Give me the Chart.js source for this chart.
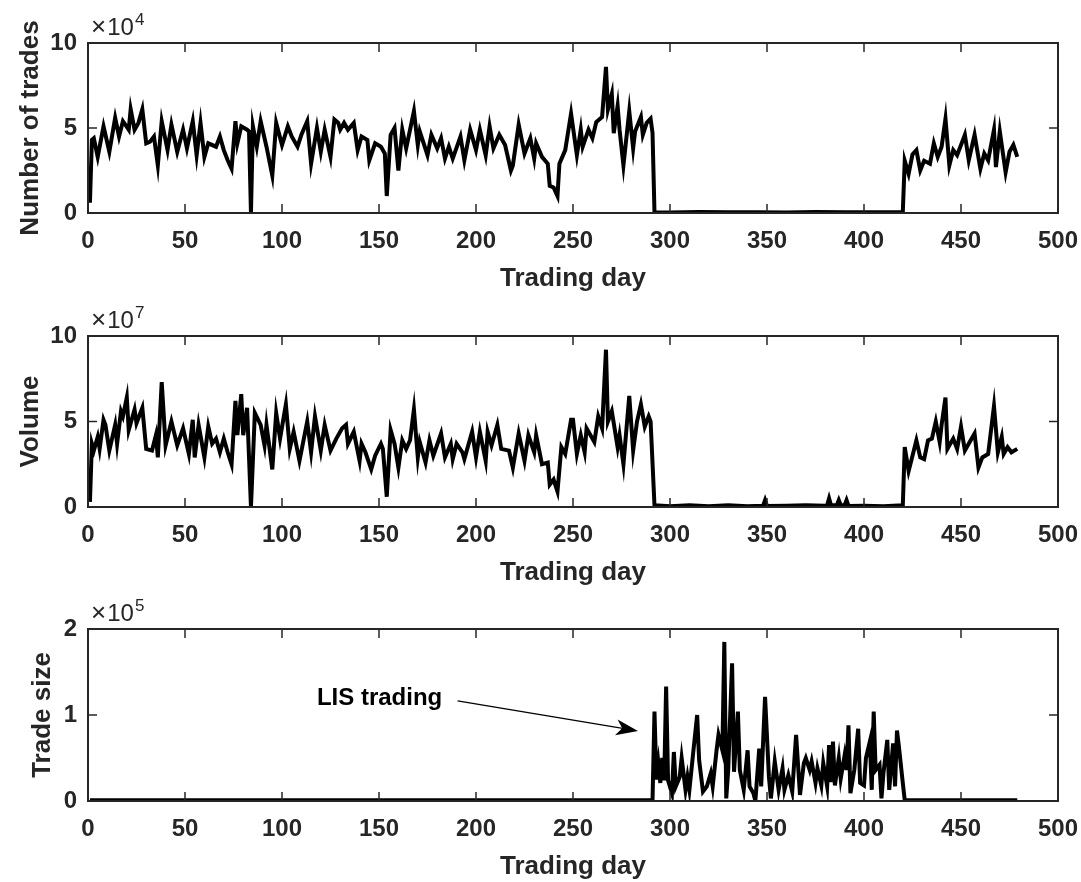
<!DOCTYPE html>
<html>
<head>
<meta charset="utf-8">
<script src="https://cdn.jsdelivr.net/npm/chart.js@4.4.0/dist/chart.umd.min.js"></script>
<style>
    html, body { margin: 0; padding: 0; background: #fff; }
    #wrap { position: relative; width: 1081px; height: 882px; }
    .panel { position: absolute; left: 0; width: 1081px; height: 294px; }
</style>
</head>
<body>
<div id="wrap">
    <div class="panel" style="top:0"><canvas id="tradesChart" width="1081" height="294"></canvas></div>
    <div class="panel" style="top:294px"><canvas id="volumeChart" width="1081" height="294"></canvas></div>
    <div class="panel" style="top:588px"><canvas id="sizeChart" width="1081" height="294"></canvas></div>
</div>
<script>
// Number of trades (x 10^4) per trading day
const tradeDays = [
    1, 2, 3, 5, 8, 11, 14, 16, 18, 21,
    22, 24, 26, 28, 30, 32, 34, 36, 38, 41,
    43, 46, 49, 51, 54, 56, 58, 60, 62, 66,
    68, 70, 72, 74, 76, 77, 79, 82, 83, 84,
    85, 87, 89, 92, 95, 97, 100, 103, 105, 108,
    110, 113, 115, 118, 120, 122, 125, 127, 129, 130,
    132, 134, 137, 139, 141, 144, 145, 148, 151, 153,
    154, 156, 158, 160, 162, 164, 168, 170, 171, 175,
    177, 180, 182, 184, 186, 188, 192, 194, 197, 200,
    202, 205, 207, 209, 212, 215, 218, 219, 222, 225,
    228, 230, 231, 234, 237, 238, 240, 242, 243, 246,
    249, 252, 254, 255, 258, 260, 262, 265, 267, 268,
    270, 271, 273, 274, 276, 279, 281, 282, 285, 286,
    288, 290, 291, 292, 300, 315, 330, 345, 360, 375,
    390, 405, 420, 421, 423, 425, 427, 429, 431, 434,
    436, 438, 440, 442, 444, 446, 448, 452, 454, 457,
    460, 462, 464, 467, 468, 470, 473, 475, 477, 479
];
const tradeCounts = [
    0.6, 4.3, 4.4, 3.3, 5.1, 3.6, 5.6, 4.5, 5.4, 4.9,
    6.1, 4.9, 5.3, 6.1, 4.1, 4.2, 4.5, 2.8, 5.4, 3.7,
    5.2, 3.6, 4.9, 3.8, 5.4, 3.4, 5.3, 3.3, 4.1, 3.9,
    4.5, 3.7, 3.1, 2.6, 5.4, 4.1, 5.1, 4.9, 4.8, 0,
    5.1, 3.9, 5.4, 3.9, 2.2, 5.3, 4.0, 5.1, 4.5, 3.9,
    4.6, 5.4, 2.9, 5.0, 3.6, 4.9, 3.3, 5.5, 5.3, 4.9,
    5.3, 4.9, 5.3, 3.7, 4.5, 4.3, 3.1, 4.1, 3.9, 3.5,
    1.0, 4.6, 5.0, 2.5, 4.9, 3.8, 6.0, 4.0, 4.8, 3.4,
    4.6, 3.8, 4.4, 3.2, 3.9, 3.2, 4.5, 3.1, 4.9, 3.7,
    4.9, 3.4, 5.1, 3.8, 4.6, 4.0, 2.5, 2.8, 5.2, 3.5,
    4.4, 3.2, 4.1, 3.3, 2.9, 1.6, 1.5, 1.0, 2.9, 3.7,
    5.85, 3.4, 4.9, 3.9, 4.9, 4.4, 5.35, 5.65, 8.6, 6.1,
    7.0, 4.7, 6.3, 4.9, 2.8, 6.0, 3.8, 4.8, 5.65, 4.6,
    5.3, 5.55, 4.7, 0.05, 0.03, 0.06, 0.04, 0.05, 0.03, 0.06,
    0.04, 0.05, 0.05, 3.07, 2.3, 3.45, 3.7, 2.5, 3.07, 2.9,
    4.1, 3.3, 3.9, 5.55, 2.8, 3.7, 3.4, 4.6, 3.1, 4.6,
    2.6, 3.5, 3.1, 4.9, 2.7, 4.8, 2.4, 3.6, 4.0, 3.3
];

// Volume (x 10^7)
const volumeDays = [
    1, 2, 3, 5, 6, 8, 9, 11, 14, 15,
    17, 18, 20, 21, 24, 25, 28, 30, 33, 35,
    36, 38, 40, 43, 46, 49, 52, 54, 55, 57,
    60, 62, 64, 66, 68, 70, 72, 74, 76, 77,
    79, 80, 82, 84, 86, 89, 91, 92, 95, 97,
    99, 102, 104, 106, 109, 113, 115, 117, 120, 122,
    125, 128, 131, 133, 134, 137, 140, 141, 143, 146,
    148, 151, 152, 154, 156, 158, 160, 162, 164, 166,
    168, 170, 171, 174, 176, 178, 182, 184, 187, 188,
    190, 193, 194, 198, 200, 202, 205, 206, 208, 211,
    213, 217, 219, 222, 225, 227, 230, 231, 234, 237,
    238, 240, 242, 244, 246, 249, 250, 252, 254, 256,
    257, 261, 263, 265, 267, 268, 270, 273, 274, 276,
    279, 281, 283, 285, 287, 289, 290, 292, 300, 310,
    320, 330, 340, 348, 349, 350, 360, 370, 380, 381,
    382, 383, 386, 387, 388, 390, 391, 392, 400, 410,
    420, 421, 423, 425, 427, 429, 431, 433, 435, 437,
    439, 440, 442, 443, 446, 448, 450, 452, 455, 457,
    459, 461, 464, 467, 469, 471, 472, 474, 476, 479
];
const volumes = [
    0.3, 3.7, 3.3, 4.1, 3.4, 5.1, 4.8, 3.3, 4.8, 3.7,
    5.6, 5.3, 6.4, 4.5, 5.7, 4.9, 5.8, 3.4, 3.3, 4.2,
    2.9, 7.3, 3.6, 5.0, 3.6, 4.6, 3.1, 5.1, 2.9, 4.8,
    2.9, 4.7, 3.7, 4.0, 3.2, 4.0, 3.2, 2.5, 6.2, 4.2,
    6.6, 4.2, 5.8, 0, 5.5, 4.8, 3.6, 4.8, 2.2, 5.5,
    4.0, 6.0, 3.4, 4.4, 2.7, 5.0, 3.2, 5.3, 3.3, 4.8,
    3.3, 4.0, 4.6, 4.8, 3.7, 4.4, 2.7, 3.7, 3.2, 2.2,
    3.0, 3.7, 3.4, 0.6, 4.5, 3.7, 2.3, 3.9, 3.4, 3.9,
    5.7, 2.9, 3.8, 2.6, 3.9, 3.0, 4.3, 2.9, 3.7, 2.8,
    3.7, 3.2, 2.8, 4.4, 2.9, 4.4, 2.7, 4.4, 3.6, 4.8,
    3.4, 3.3, 2.3, 4.3, 2.7, 4.2, 3.2, 4.2, 2.5, 2.6,
    1.3, 1.6, 0.9, 3.5, 3.1, 5.1, 5.1, 3.1, 4.2, 3.2,
    4.6, 3.8, 5.3, 4.6, 9.2, 5.0, 5.6, 3.5, 4.2, 2.5,
    6.5, 3.3, 5.0, 6.0, 4.7, 5.3, 5.0, 0.1, 0.05, 0.1,
    0.05, 0.1, 0.05, 0.08, 0.4, 0.06, 0.08, 0.1, 0.08, 0.1,
    0.5, 0.1, 0.1, 0.4, 0.1, 0.1, 0.4, 0.06, 0.08, 0.05,
    0.1, 3.5, 2.1, 3.0, 3.9, 2.9, 2.8, 3.9, 4.0, 5.0,
    3.8, 4.8, 6.4, 3.4, 4.0, 3.4, 4.7, 3.3, 3.9, 4.3,
    2.3, 2.9, 3.1, 5.9, 3.2, 4.1, 3.1, 3.5, 3.2, 3.4
];

// Trade size (x 10^5)
const sizeDays = [
    1, 50, 100, 150, 200, 250, 291, 292, 293, 294,
    295, 296, 297, 298, 299, 301, 302, 303, 305, 306,
    308, 309, 310, 312, 314, 315, 317, 319, 321, 322,
    324, 325, 327, 328, 329, 330, 332, 333, 335, 336,
    338, 340, 341, 343, 344, 346, 347, 349, 351, 352,
    354, 356, 358, 359, 361, 363, 365, 367, 369, 370,
    372, 373, 375, 376, 378, 379, 381, 382, 383, 384,
    385, 387, 388, 390, 391, 392, 393, 395, 397, 398,
    400, 401, 403, 404, 405, 406, 408, 409, 410, 412,
    413, 415, 416, 417, 418, 420, 421, 450, 479
];
const tradeSizes = [
    0.01, 0.01, 0.01, 0.01, 0.01, 0.01, 0.01, 1.04, 0.25, 0.44,
    0.21, 0.5, 0.24, 1.33, 0.24, 0.09, 0.57, 0.17, 0.28, 0.5,
    0.13, 0.28, 0.13, 0.57, 1.0, 0.48, 0.11, 0.17, 0.32, 0.17,
    0.59, 0.77, 0.59, 1.85, 0.03, 0.36, 1.6, 0.34, 1.04, 0.36,
    0.13, 0.59, 0.17, 0.09, 0.0, 0.61, 0.17, 1.21, 0.28, 0.03,
    0.46, 0.13, 0.38, 0.13, 0.3, 0.11, 0.77, 0.07, 0.44, 0.5,
    0.36, 0.46, 0.21, 0.38, 0.18, 0.44, 0.17, 0.65, 0.22, 0.69,
    0.18, 0.5, 0.26, 0.53, 0.36, 0.88, 0.09, 0.36, 0.84, 0.21,
    0.18, 0.5, 0.69, 0.13, 1.04, 0.36, 0.42, 0.03, 0.32, 0.71,
    0.13, 0.67, 0.17, 0.82, 0.63, 0.21, 0.01, 0.01, 0.01
];

// Annotation in data units of the bottom panel
const noteText = 'LIS trading';
const noteAt = [118, 1.12];
const arrowFrom = [190.5, 1.165];
const arrowTo = [283.5, 0.815];

const FONT = '"Liberation Sans", Arial, Helvetica, sans-serif';
const INK = '#262626';
const TICK_LEN = 9;

function strokeLine(ctx, x1, y1, x2, y2) {
    ctx.beginPath();
    ctx.moveTo(x1, y1);
    ctx.lineTo(x2, y2);
    ctx.stroke();
}

// MATLAB-like box: closed frame, inward ticks and the x10^n multiplier
const matlabBox = {
    id: 'matlabBox',
    afterDraw(chart, args, opts) {
        const {ctx, chartArea: a} = chart;
        const xs = chart.scales.x, ys = chart.scales.y;
        ctx.save();
        ctx.strokeStyle = INK;
        ctx.lineWidth = 1.5;
        xs.ticks.forEach(t => {
            const px = xs.getPixelForValue(t.value);
            strokeLine(ctx, px, a.bottom, px, a.bottom - TICK_LEN);
            strokeLine(ctx, px, a.top, px, a.top + TICK_LEN);
        });
        ys.ticks.forEach(t => {
            const py = ys.getPixelForValue(t.value);
            strokeLine(ctx, a.left, py, a.left + TICK_LEN, py);
            strokeLine(ctx, a.right, py, a.right - TICK_LEN, py);
        });
        ctx.lineWidth = 2;
        ctx.strokeRect(a.left, a.top, a.right - a.left, a.bottom - a.top);

        // multiplier above the top-left corner
        ctx.fillStyle = INK;
        ctx.textBaseline = 'alphabetic';
        ctx.textAlign = 'left';
        const base = a.top - 8;
        let tx = a.left + 3;
        ctx.font = '26px ' + FONT;
        ctx.fillText('\u00d7', tx, base);
        tx += ctx.measureText('\u00d7').width + 1;
        ctx.font = '24px ' + FONT;
        ctx.fillText('10', tx, base);
        tx += ctx.measureText('10').width + 1;
        ctx.font = '17px ' + FONT;
        ctx.fillText(String(opts.exponent), tx, base - 10);
        ctx.restore();
    }
};

// Text and arrow pointing to the start of LIS trading
const lisNote = {
    id: 'lisNote',
    afterDraw(chart) {
        const {ctx} = chart;
        const xs = chart.scales.x, ys = chart.scales.y;
        ctx.save();
        ctx.fillStyle = '#000';
        ctx.font = 'bold 24px ' + FONT;
        ctx.textBaseline = 'alphabetic';
        ctx.fillText(noteText, xs.getPixelForValue(noteAt[0]), ys.getPixelForValue(noteAt[1]));

        const x1 = xs.getPixelForValue(arrowFrom[0]), y1 = ys.getPixelForValue(arrowFrom[1]);
        const x2 = xs.getPixelForValue(arrowTo[0]), y2 = ys.getPixelForValue(arrowTo[1]);
        const len = Math.hypot(x2 - x1, y2 - y1);
        const dx = (x2 - x1) / len, dy = (y2 - y1) / len;
        const bx = x2 - dx * 22, by = y2 - dy * 22;
        const nx = -dy * 8, ny = dx * 8;
        ctx.strokeStyle = '#000';
        ctx.lineWidth = 1.2;
        strokeLine(ctx, x1, y1, x2 - dx * 14, y2 - dy * 14);
        ctx.beginPath();
        ctx.moveTo(x2, y2);
        ctx.lineTo(bx + nx, by + ny);
        ctx.lineTo(x2 - dx * 16, y2 - dy * 16);
        ctx.lineTo(bx - nx, by - ny);
        ctx.closePath();
        ctx.fill();
        ctx.restore();
    }
};

function makePanel(canvasId, days, values, cfg) {
    const ctx = document.getElementById(canvasId).getContext('2d');
    const points = days.map((d, i) => ({x: d, y: values[i]}));
    return new Chart(ctx, {
        type: 'line',
        data: {
            datasets: [{
                data: points,
                borderColor: '#000',
                borderWidth: 4,
                pointRadius: 0,
                tension: 0,
                fill: false
            }]
        },
        options: {
            responsive: false,
            animation: false,
            events: [],
            layout: { padding: { top: cfg.top, right: 23, bottom: 0, left: 0 } },
            plugins: {
                legend: { display: false },
                tooltip: { enabled: false },
                matlabBox: { exponent: cfg.exponent }
            },
            scales: {
                x: {
                    type: 'linear',
                    min: 0,
                    max: 500,
                    grid: { display: false, drawTicks: false },
                    border: { display: false },
                    ticks: {
                        stepSize: 50,
                        padding: 14,
                        color: INK,
                        font: { family: FONT, size: 24, weight: 'bold' }
                    },
                    title: {
                        display: true,
                        text: 'Trading day',
                        color: INK,
                        padding: { top: 0, bottom: 0 },
                        font: { family: FONT, size: 26, weight: 'bold' }
                    },
                    afterFit: function(scale) {
                        // keep the plot box fixed; labels may overhang the padding
                        scale.height = 81;
                        scale.paddingLeft = 0;
                        scale.paddingRight = 0;
                    }
                },
                y: {
                    min: 0,
                    max: cfg.yMax,
                    grid: { display: false, drawTicks: false },
                    border: { display: false },
                    ticks: {
                        stepSize: cfg.yStep,
                        padding: 11,
                        color: INK,
                        font: { family: FONT, size: 24, weight: 'bold' }
                    },
                    title: {
                        display: true,
                        text: cfg.yTitle,
                        color: INK,
                        padding: { top: cfg.titlePad, bottom: 0 },
                        font: { family: FONT, size: 26, weight: 'bold' }
                    },
                    afterFit: function(scale) {
                        scale.width = 88;
                        scale.paddingTop = 0;
                        scale.paddingBottom = 0;
                    }
                }
            }
        },
        plugins: cfg.extra ? [matlabBox, cfg.extra] : [matlabBox]
    });
}

document.addEventListener('DOMContentLoaded', function() {
    makePanel('tradesChart', tradeDays, tradeCounts,
        { top: 43, yMax: 10, yStep: 5, yTitle: 'Number of trades', titlePad: 15, exponent: 4 });
    makePanel('volumeChart', volumeDays, volumes,
        { top: 42, yMax: 10, yStep: 5, yTitle: 'Volume', titlePad: 15, exponent: 7 });
    makePanel('sizeChart', sizeDays, tradeSizes,
        { top: 41, yMax: 2, yStep: 1, yTitle: 'Trade size', titlePad: 27, exponent: 5, extra: lisNote });
});
</script>
</body>
</html>
